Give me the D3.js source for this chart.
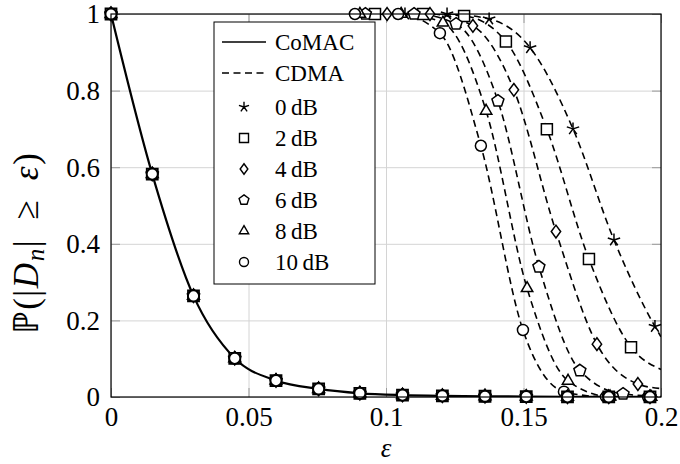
<!DOCTYPE html>
<html><head><meta charset="utf-8">
<script src="https://cdn.jsdelivr.net/npm/d3@7"></script>
<style>body{margin:0;background:#fff}svg{display:block}</style>
</head><body><svg id="c" width="680" height="464"></svg>
<script>
// ---- data ----
const xTicks = [0, 0.05, 0.1, 0.15, 0.2];
const xTickLabels = ["0", "0.05", "0.1", "0.15", "0.2"];
const yTicks = [0, 0.2, 0.4, 0.6, 0.8, 1];
const yTickLabels = ["0", "0.2", "0.4", "0.6", "0.8", "1"];
const snrLabels = ["0\u2009dB", "2\u2009dB", "4\u2009dB", "6\u2009dB", "8\u2009dB", "10\u2009dB"];
const markerShapes = ["star", "square", "diamond", "pentagon", "triangle", "circle"];

// CoMAC (identical for all SNRs)
const comacEps = [0, 0.015, 0.03, 0.045, 0.06, 0.0755, 0.0905, 0.106, 0.1205, 0.136, 0.151, 0.166, 0.181, 0.196];
const comacP   = [1, 0.582, 0.264, 0.101, 0.043, 0.021, 0.0097, 0.005, 0.003, 0.002, 0.001, 0.0005, 0.0003, 0.0002];

// CDMA, one pair of arrays per SNR
const cdmaEps0dB  = [0.1069, 0.1222, 0.1375, 0.1524, 0.168, 0.1829, 0.1978];
const cdmaP0dB    = [1, 1, 0.987, 0.912, 0.70, 0.41, 0.184];
const cdmaEps2dB  = [0.096, 0.1135, 0.1284, 0.1436, 0.1585, 0.1738, 0.1891];
const cdmaP2dB    = [1, 1, 0.995, 0.928, 0.699, 0.36, 0.13];
const cdmaEps4dB  = [0.1004, 0.116, 0.1316, 0.1465, 0.1618, 0.1767, 0.1916];
const cdmaP4dB    = [1, 1, 0.969, 0.802, 0.432, 0.138, 0.034];
const cdmaEps6dB  = [0.0925, 0.1102, 0.1255, 0.1407, 0.1556, 0.1705, 0.1862];
const cdmaP6dB    = [1, 1, 0.974, 0.773, 0.34, 0.069, 0.008];
const cdmaEps8dB  = [0.0905, 0.1055, 0.1207, 0.1364, 0.1513, 0.1662, 0.1815, 0.1964];
const cdmaP8dB    = [1, 1, 0.977, 0.747, 0.284, 0.042, 0.001, 0];
const cdmaEps10dB = [0.0887, 0.1044, 0.1196, 0.1345, 0.1498, 0.1647, 0.18, 0.1953];
const cdmaP10dB   = [1, 1, 0.95, 0.656, 0.175, 0.014, 0.0003, 0];
// value of each CDMA curve where it meets the right edge (eps = 0.2)
const cdmaEndP = [0.157, 0.072, 0.022, 0.002, 0, 0];

const cdmaEps = [cdmaEps0dB, cdmaEps2dB, cdmaEps4dB, cdmaEps6dB, cdmaEps8dB, cdmaEps10dB];
const cdmaP   = [cdmaP0dB, cdmaP2dB, cdmaP4dB, cdmaP6dB, cdmaP8dB, cdmaP10dB];

// ---- layout ----
const L = 111, R = 661, T = 14, B = 397;
const FONT = "'Liberation Serif','Times New Roman',serif";
const svg = d3.select("#c");
const x = d3.scaleLinear().domain([0, 0.2]).range([L, R]);
const y = d3.scaleLinear().domain([0, 1]).range([B, T]);

// grid
const gridCol = "#d4d4d4", tickCol = "#9a9a9a";
svg.append("g").attr("transform", `translate(0,${B})`)
  .call(d3.axisBottom(x).tickValues(xTicks).tickSize(-(B - T)).tickFormat(""))
  .call(g => { g.select(".domain").remove(); g.selectAll("line").attr("stroke", gridCol).attr("stroke-width", 1); });
svg.append("g").attr("transform", `translate(${L},0)`)
  .call(d3.axisLeft(y).tickValues(yTicks).tickSize(-(R - L)).tickFormat(""))
  .call(g => { g.select(".domain").remove(); g.selectAll("line").attr("stroke", gridCol).attr("stroke-width", 1); });

// inner ticks on all four sides
const tl = 9;
const tickAxes = [
  [d3.axisBottom(x), `translate(0,${B})`],
  [d3.axisTop(x), `translate(0,${T})`],
  [d3.axisLeft(y), `translate(${L},0)`],
  [d3.axisRight(y), `translate(${R},0)`]
];
tickAxes.forEach(([ax, tr], i) => {
  const vals = i < 2 ? xTicks : yTicks;
  svg.append("g").attr("transform", tr)
    .call(ax.tickValues(vals).tickSize(-tl).tickFormat(""))
    .call(g => { g.select(".domain").remove(); g.selectAll("line").attr("stroke", tickCol).attr("stroke-width", 1); });
});

// tick labels
svg.append("g").attr("transform", `translate(0,${B})`)
  .call(d3.axisBottom(x).tickValues(xTicks).tickSize(0).tickPadding(0).tickFormat((d, i) => xTickLabels[i]))
  .call(g => {
    g.select(".domain").remove();
    g.selectAll("text").attr("font-family", FONT).attr("font-size", 27).attr("fill", "#000")
      .attr("y", 29).attr("dy", 0);
  });
svg.append("g").attr("transform", `translate(${L},0)`)
  .call(d3.axisLeft(y).tickValues(yTicks).tickSize(0).tickPadding(11).tickFormat((d, i) => yTickLabels[i]))
  .call(g => {
    g.select(".domain").remove();
    g.selectAll("text").attr("font-family", FONT).attr("font-size", 27).attr("fill", "#000").attr("dy", "0.33em");
  });

// clip
svg.append("clipPath").attr("id", "clip").append("rect")
  .attr("x", L).attr("y", T).attr("width", R - L).attr("height", B - T);
const plot = svg.append("g").attr("clip-path", "url(#clip)");

const line = d3.line().x(d => x(d[0])).y(d => y(d[1])).curve(d3.curveMonotoneX);

// CDMA dashed curves
cdmaEps.forEach((eps, k) => {
  const pts = eps.map((e, i) => [e, cdmaP[k][i]]);
  pts.push([0.2, cdmaEndP[k]]);
  plot.append("path").attr("d", line(pts)).attr("fill", "none")
    .attr("stroke", "#000").attr("stroke-width", 1.6).attr("stroke-dasharray", "7,4.5");
});

// CoMAC solid curve
plot.append("path").attr("d", line(comacEps.map((e, i) => [e, comacP[i]])))
  .attr("fill", "none").attr("stroke", "#000").attr("stroke-width", 2.2);

// markers
function markerPath(shape, s) {
  const pts = (n, r, a0) => d3.range(n).map(k => {
    const a = (a0 + k * 360 / n) * Math.PI / 180;
    return [r * Math.cos(a), r * Math.sin(a)];
  });
  if (shape === "star") {
    return pts(5, 6.5 * s, -90).map(p => `M0,0L${p[0]},${p[1]}`).join("");
  }
  if (shape === "square") {
    const h = 5.5 * s;
    return `M${-h},${-h}H${h}V${h}H${-h}Z`;
  }
  if (shape === "diamond") {
    const w = 4.7 * s, h = 6.4 * s;
    return `M0,${-h}L${w},0L0,${h}L${-w},0Z`;
  }
  if (shape === "pentagon") {
    return "M" + pts(5, 6.3 * s, -90).map(p => p.join(",")).join("L") + "Z";
  }
  if (shape === "triangle") {
    return "M" + pts(3, 6.6 * s, -90).map(p => p.join(",")).join("L") + "Z";
  }
  const r = 5.5 * s;
  return `M${r},0A${r},${r} 0 1,1 ${-r},0A${r},${r} 0 1,1 ${r},0Z`;
}
function drawMarker(g, shape, cx, cy, s, sw) {
  g.append("path").attr("d", markerPath(shape, s))
    .attr("transform", `translate(${cx},${cy})`)
    .attr("fill", shape === "star" ? "none" : "#fff")
    .attr("stroke", "#000").attr("stroke-width", sw).attr("stroke-linejoin", "miter");
}
const mk = svg.append("g");
markerShapes.forEach((shape, k) => {
  cdmaEps[k].forEach((e, i) => drawMarker(mk, shape, x(e), y(cdmaP[k][i]), 1, 1.5));
});
markerShapes.forEach(shape => {
  comacEps.forEach((e, i) => drawMarker(mk, shape, x(e), y(comacP[i]), 1, 1.8));
});

// frame
svg.append("rect").attr("x", L).attr("y", T).attr("width", R - L).attr("height", B - T)
  .attr("fill", "none").attr("stroke", "#000").attr("stroke-width", 1.2);

// axis labels
svg.append("text").attr("x", (L + R) / 2).attr("y", 457).attr("text-anchor", "middle")
  .attr("font-family", FONT).attr("font-size", 27).attr("font-style", "italic").text("ε");

const yl = svg.append("text").attr("transform", "translate(38,243) rotate(-90)")
  .attr("text-anchor", "middle").attr("font-family", FONT).attr("font-size", 35)
  .attr("letter-spacing", 1.5);
yl.append("tspan").text("ℙ(|");
yl.append("tspan").attr("font-style", "italic").text("D");
yl.append("tspan").attr("font-style", "italic").attr("font-size", 25).attr("dy", 6).text("n");
yl.append("tspan").attr("dy", -6).text("|\u2002≥\u2002");
yl.append("tspan").attr("font-style", "italic").text("ε");
yl.append("tspan").text(")");

// legend
const lg = svg.append("g");
lg.append("rect").attr("x", 214).attr("y", 22).attr("width", 161).attr("height", 262)
  .attr("fill", "#fff").attr("stroke", "#000").attr("stroke-width", 1);
const legendNames = ["CoMAC", "CDMA"].concat(snrLabels);
legendNames.forEach((name, i) => {
  const cy = 42 + i * 31 + (i >= 2 ? 3 : 0);
  if (i === 0 || i === 1) {
    lg.append("line").attr("x1", 222).attr("x2", 266).attr("y1", cy).attr("y2", cy)
      .attr("stroke", "#000").attr("stroke-width", i === 0 ? 1.6 : 1.4)
      .attr("stroke-dasharray", i === 1 ? "7,4.5" : null);
  } else {
    drawMarker(lg, markerShapes[i - 2], 244, cy, 0.82, 1.4);
  }
  lg.append("text").attr("x", 275).attr("y", cy).attr("dy", "0.34em")
    .attr("font-family", FONT).attr("font-size", 23).text(name);
});
</script>
</body></html>
